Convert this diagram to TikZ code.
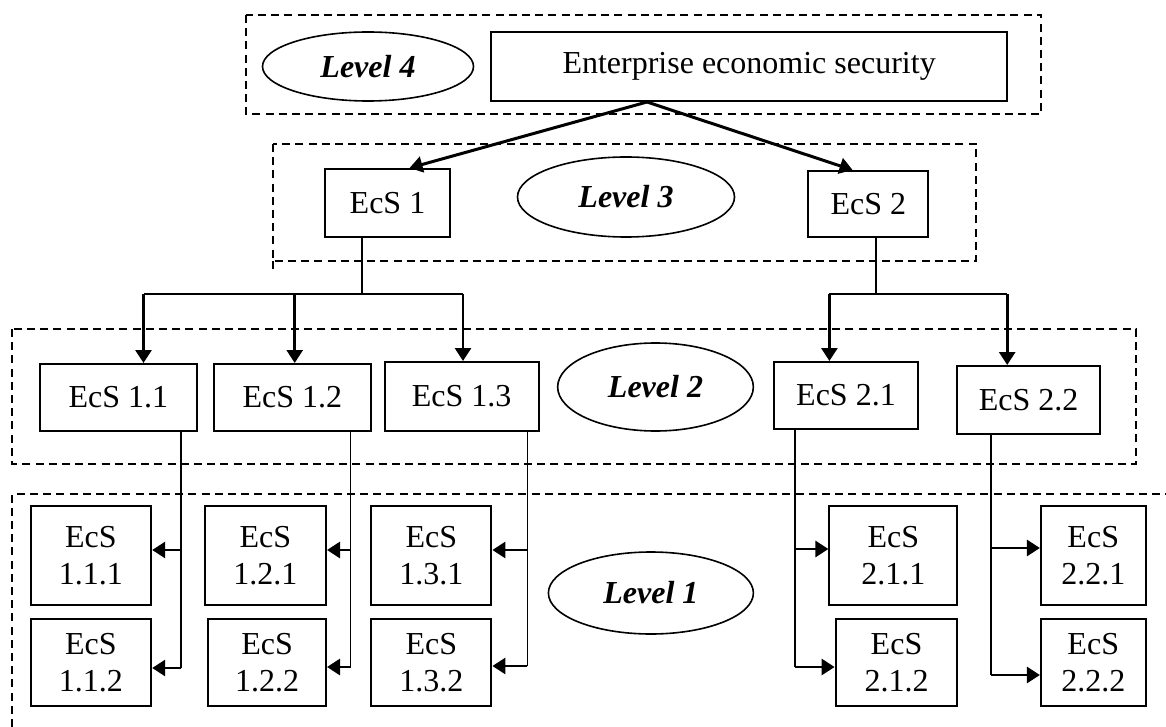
\documentclass[tikz,border=0pt]{standalone}
\usepackage{fontspec}
\setmainfont{Liberation Serif}
\usetikzlibrary{arrows.meta,shapes.geometric}
\begin{document}
\begin{tikzpicture}[x=0.5pt,y=-0.5pt,
  box/.style={draw,line width=1pt,rectangle,inner sep=0pt,align=center,font=\fontsize{16}{18.5}\selectfont},
  lvl/.style={draw,line width=0.8pt,ellipse,inner sep=0pt,font=\fontsize{16}{18.5}\selectfont\bfseries\itshape},
  zone/.style={draw,line width=0.9pt,dash pattern=on 4pt off 2.6pt},
  arr/.style={line width=1.4pt,-{Triangle[length=6.5pt,width=8pt]}},
  trunk/.style={line width=0.9pt},
  twig/.style={line width=0.8pt},
]
\useasboundingbox (0,0) rectangle (1166,727);

% zones
\draw[zone] (245.7,15) rectangle (1041.2,114);
\draw[zone] (272.9,144) rectangle (976.3,261);
\draw[zone] (272.9,261) -- (272.9,272);
\draw[zone] (12.2,329) rectangle (1136,464);
\draw[zone] (12.2,727) -- (12.2,494) -- (1166,494);

% level 4
\node[lvl,minimum width=105.5pt,minimum height=34.5pt] (l4) at (368,66.5) {Level 4};
\node[box,minimum width=258.1pt,minimum height=34.5pt] (ent) at (749.1,66.5) {Enterprise economic security};

% level 3
\node[box,minimum width=62.2pt,minimum height=34pt] (e1) at (387.5,203) {EcS 1};
\node[lvl,minimum width=108.5pt,minimum height=40pt] (l3) at (626,197) {Level 3};
\node[box,minimum width=60.1pt,minimum height=33pt] (e2) at (868.3,204) {EcS 2};

% level 2
\node[box,minimum width=78.25pt,minimum height=33.5pt] (e11) at (118.45,397.5) {EcS 1.1};
\node[box,minimum width=78.85pt,minimum height=33.5pt] (e12) at (292.35,397.5) {EcS 1.2};
\node[box,minimum width=77.1pt,minimum height=34.5pt] (e13) at (461.7,396.5) {EcS 1.3};
\node[lvl,minimum width=97.85pt,minimum height=44pt] (l2) at (655.5,387) {Level 2};
\node[box,minimum width=72.25pt,minimum height=33.5pt] (e21) at (846,395.5) {EcS 2.1};
\node[box,minimum width=71.3pt,minimum height=34pt] (e22) at (1028.7,400) {EcS 2.2};

% level 1
\node[box,minimum width=60.3pt,minimum height=49.5pt] (e111) at (90.9,555.5) {EcS\\1.1.1};
\node[box,minimum width=60.3pt,minimum height=43.5pt] (e112) at (90.9,662.5) {EcS\\1.1.2};
\node[box,minimum width=60.65pt,minimum height=49.5pt] (e121) at (265.35,555.5) {EcS\\1.2.1};
\node[box,minimum width=58.9pt,minimum height=43.5pt] (e122) at (267.1,662.5) {EcS\\1.2.2};
\node[box,minimum width=60.1pt,minimum height=49.5pt] (e131) at (431.3,555.5) {EcS\\1.3.1};
\node[box,minimum width=60.1pt,minimum height=43.5pt] (e132) at (431.3,662.5) {EcS\\1.3.2};
\node[lvl,minimum width=102.5pt,minimum height=41pt] (l1) at (650.9,593) {Level 1};
\node[box,minimum width=64pt,minimum height=49.5pt] (e211) at (893.4,555.5) {EcS\\2.1.1};
\node[box,minimum width=60.9pt,minimum height=43.5pt] (e212) at (896.5,662.5) {EcS\\2.1.2};
\node[box,minimum width=52.35pt,minimum height=49.5pt] (e221) at (1093.25,555.5) {EcS\\2.2.1};
\node[box,minimum width=52.35pt,minimum height=43.5pt] (e222) at (1093.25,662.5) {EcS\\2.2.2};

% level 4 -> level 3
\coordinate (top) at (647,0);
\coordinate (t1) at (409.5,0);
\coordinate (t2) at (852.6,0);
\draw[arr,line width=1.5pt] (ent.south -| top) -- (e1.north -| t1);
\draw[arr,line width=1.5pt] (ent.south -| top) -- (e2.north -| t2);

% level 3 -> level 2
\coordinate (b1) at (361.7,294);
\coordinate (c11) at (143.5,294);
\coordinate (c12) at (294.7,294);
\coordinate (c13) at (463,294);
\draw[trunk] (e1.south -| b1) -- (b1);
\draw[trunk] (c11) -- (c13);
\draw[arr] (c11) -- (c11 |- e11.north);
\draw[arr] (c12) -- (c12 |- e12.north);
\draw[arr] (c13) -- (c13 |- e13.north);

\coordinate (b2) at (875.8,294);
\coordinate (c21) at (829.4,294);
\coordinate (c22) at (1007.2,294);
\draw[trunk] (e2.south -| b2) -- (b2);
\draw[trunk] (c21) -- (c22);
\draw[arr] (c21) -- (c21 |- e21.north);
\draw[arr] (c22) -- (c22 |- e22.north);

% level 2 -> level 1
\coordinate (v11) at (181,550);   \coordinate (w11) at (181,668);
\coordinate (v12) at (350.6,550); \coordinate (w12) at (350.6,667);
\coordinate (v13) at (527.4,550); \coordinate (w13) at (527.4,666);
\coordinate (v21) at (795,549);   \coordinate (w21) at (795,667);
\coordinate (v22) at (991,548);   \coordinate (w22) at (991,675);

\draw[twig] (e11.south -| v11) -- (w11);
\draw[arr] (v11) -- (v11 -| e111.east);
\draw[arr] (w11) -- (w11 -| e112.east);

\draw[twig] (e12.south -| v12) -- (w12);
\draw[arr] (v12) -- (v12 -| e121.east);
\draw[arr] (w12) -- (w12 -| e122.east);

\draw[twig] (e13.south -| v13) -- (w13);
\draw[arr] (v13) -- (v13 -| e131.east);
\draw[arr] (w13) -- (w13 -| e132.east);

\draw[twig] (e21.south -| v21) -- (w21);
\draw[arr] (v21) -- (v21 -| e211.west);
\draw[arr] (w21) -- (w21 -| e212.west);

\draw[twig] (e22.south -| v22) -- (w22);
\draw[arr] (v22) -- (v22 -| e221.west);
\draw[arr] (w22) -- (w22 -| e222.west);
\end{tikzpicture}
\end{document}
